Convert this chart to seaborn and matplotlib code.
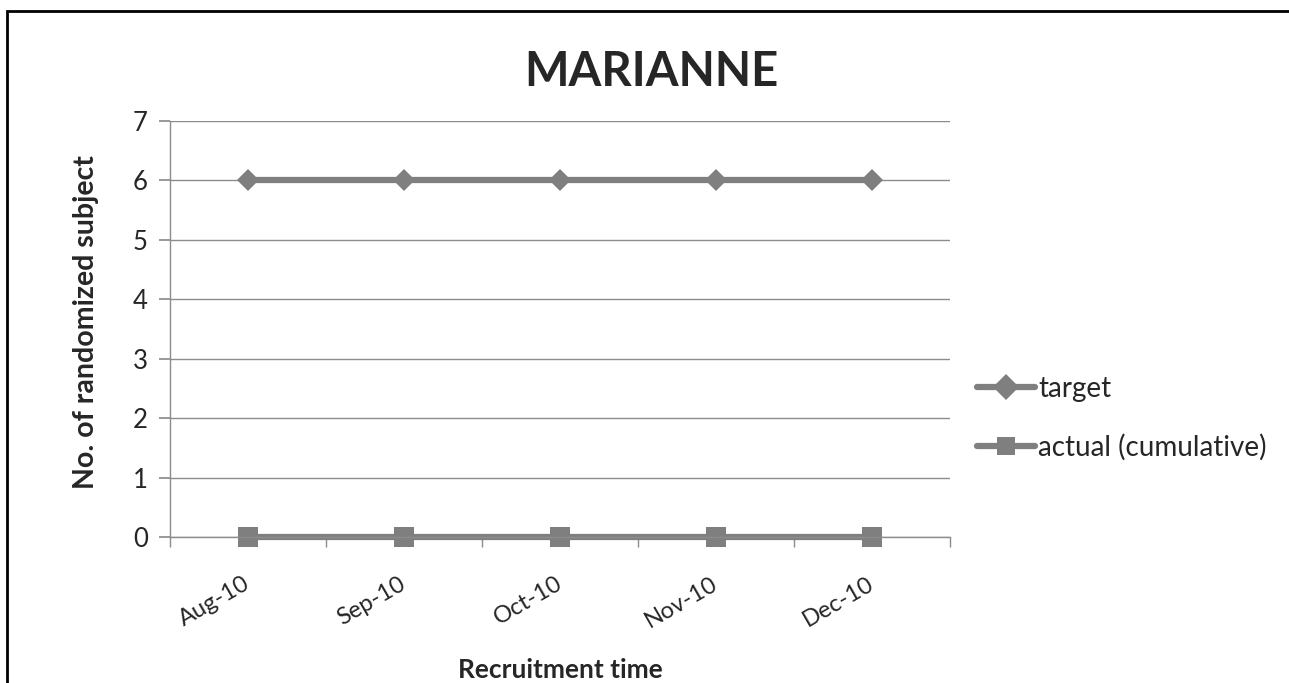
import matplotlib
matplotlib.use("Agg")
import matplotlib.pyplot as plt
import matplotlib.transforms as mtransforms
import seaborn as sns
import pandas as pd
from matplotlib.patches import Rectangle

months = ["Aug-10", "Sep-10", "Oct-10", "Nov-10", "Dec-10"]
target = [6, 6, 6, 6, 6]
actual = [0, 0, 0, 0, 0]
series_names = ["target", "actual (cumulative)"]

df = pd.DataFrame({
    "month": months * 2,
    "value": target + actual,
    "series": [series_names[0]] * len(months) + [series_names[1]] * len(months),
})

sns.set_theme(style="white")
plt.rcParams["font.family"] = ["Lato", "DejaVu Sans"]

gray = "#7f7f7f"
fig = plt.figure(figsize=(12.89, 6.83), dpi=100)
ax = fig.add_axes([170 / 1289, 1 - 537 / 683, 780 / 1289, (537 - 121) / 683])

sns.lineplot(data=df, x="month", y="value", hue="series", style="series",
             palette=[gray, gray], markers={"target": "D", "actual (cumulative)": "s"},
             dashes=False, linewidth=4.5, markersize=13, markeredgewidth=0, ax=ax)
for ln, ms in zip(ax.lines, [11, 15]):
    ln.set_markersize(ms)
    ln.set_clip_on(False)

ax.set_xlim(-0.5, 4.5)
ax.set_ylim(0, 7)
ax.set_yticks(range(0, 8))
ax.yaxis.grid(True, color="#8c8c8c", linewidth=1)
ax.set_axisbelow(True)
for s in ["top", "right"]:
    ax.spines[s].set_visible(False)
for s in ["left", "bottom"]:
    ax.spines[s].set_color("#8c8c8c")
    ax.spines[s].set_linewidth(1)

# ticks between categories on x, outward on y
ax.set_xticks(range(len(months)))
ax.set_xticklabels(months, rotation=30, ha="right", va="top", rotation_mode="anchor", fontsize=17)
ax.tick_params(axis="x", length=0, pad=26)
ax.set_xticks([i - 0.5 for i in range(len(months) + 1)], minor=True)
ax.tick_params(axis="x", which="minor", length=7, color="#8c8c8c", direction="out", bottom=True)
ax.tick_params(axis="y", length=8, color="#8c8c8c", direction="out", left=True, labelsize=18.5, pad=8)
shift = mtransforms.ScaledTranslation(-5 / 100, 0, fig.dpi_scale_trans)
for lbl in ax.get_xticklabels():
    lbl.set_transform(lbl.get_transform() + shift)

ax.set_xlabel("Recruitment time", fontsize=19, fontweight="bold", va="center")
ax.xaxis.set_label_coords(0.5, (537 - 670) / 416)
ax.set_ylabel("No. of randomized subject", fontsize=20.5, fontweight="bold", va="center")
ax.yaxis.set_label_coords((86 - 170) / 780, (537 - 322) / 416)

fig.text(651 / 1289, 1 - 72 / 683, "MARIANNE", fontsize=34, fontweight="bold",
         ha="center", va="center")

leg = ax.legend(loc="center left", bbox_to_anchor=(966 / 1289, 1 - 418 / 683),
                bbox_transform=fig.transFigure, frameon=False, borderaxespad=0,
                fontsize=20, handlelength=2.1, handletextpad=0.1, labelspacing=1.15)

# outer frame
fig.patches.append(Rectangle((7 / 1289, -0.1), 1.2, 1 - 11 / 683 + 0.1,
                             transform=fig.transFigure, fill=False,
                             edgecolor="black", linewidth=2))

fig.savefig("out.png", dpi=100)
